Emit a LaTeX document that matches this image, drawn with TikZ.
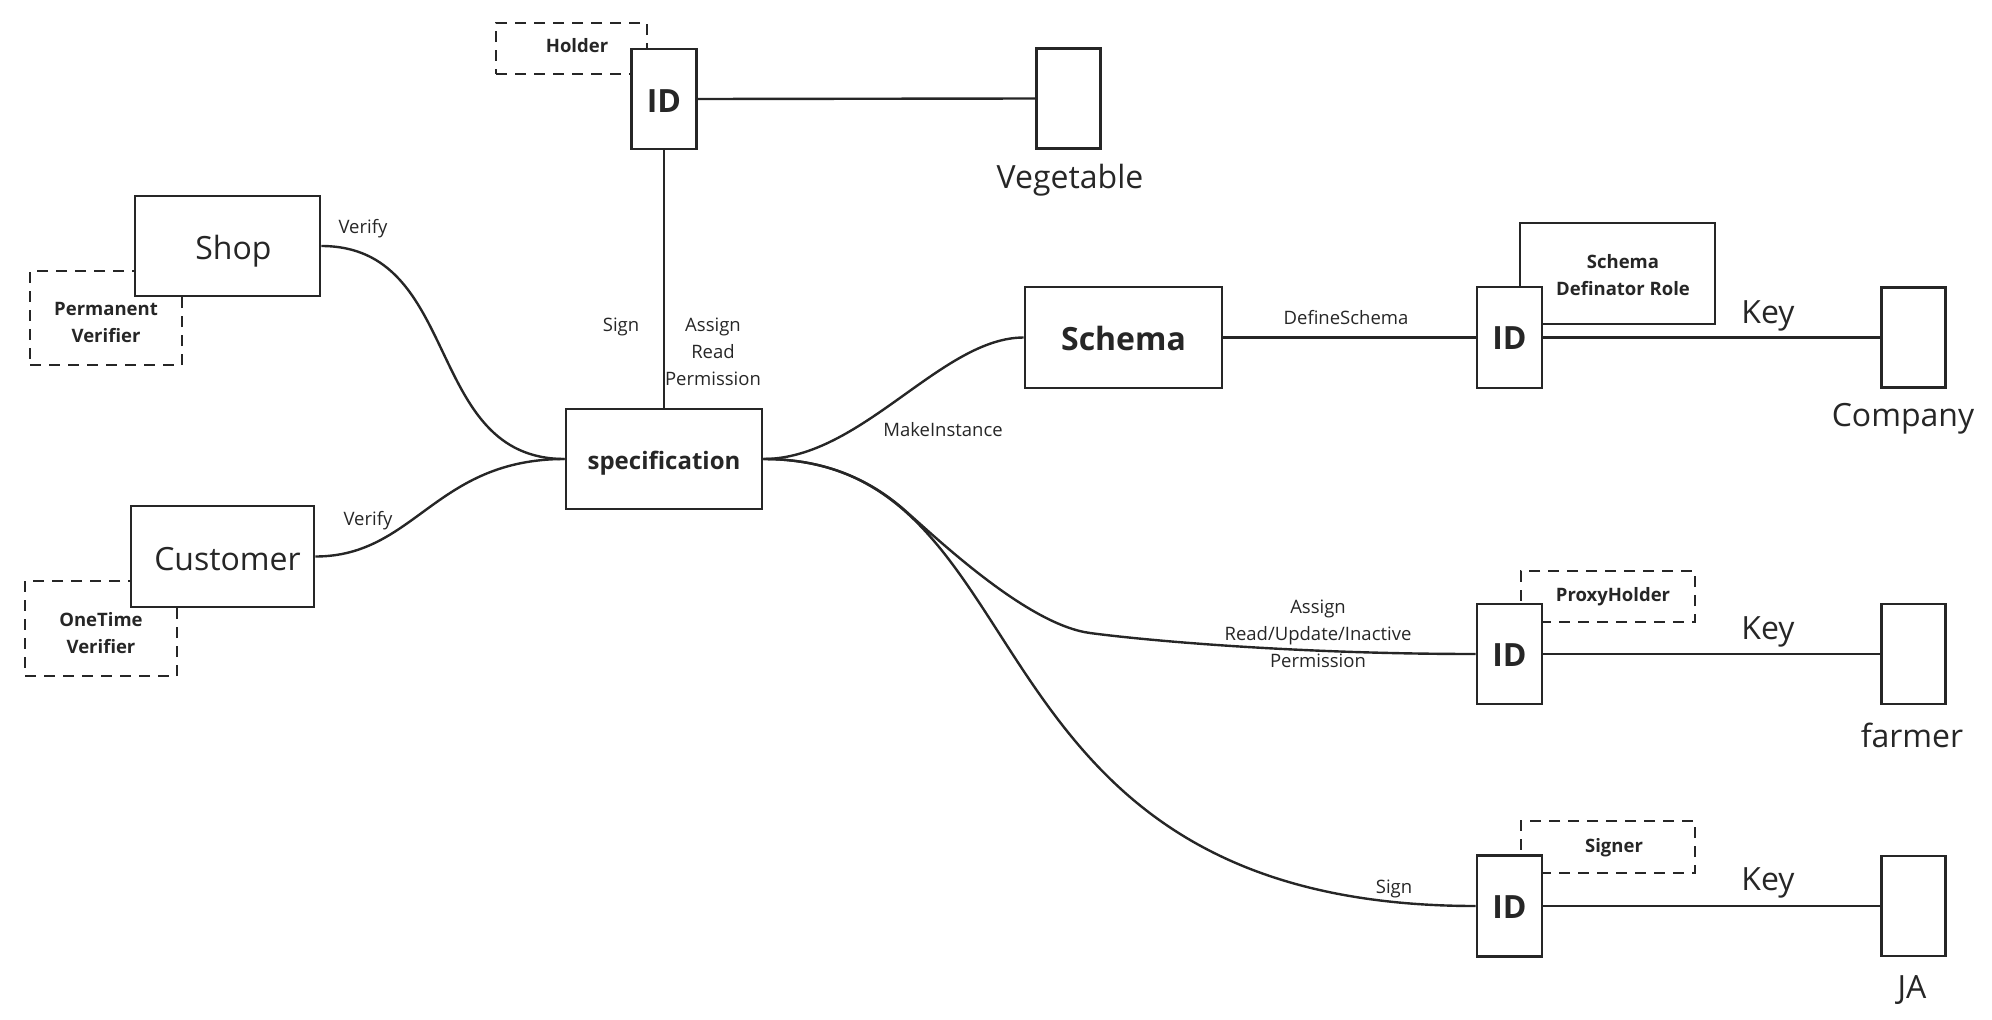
\documentclass[tikz,border=0pt]{standalone}
\usepackage{fontspec}
\setmainfont{Open Sans}
\newcommand\smallreg{\fontsize{18.5}{27}\selectfont}
\newcommand\smallbold{\fontsize{18.5}{27}\selectfont\bfseries}
\newcommand\bigreg{\fontsize{32}{38}\selectfont}
\newcommand\bigbold{\fontsize{32}{38}\selectfont\bfseries}
\newcommand\specfont{\fontsize{24}{30}\selectfont\bfseries}
\definecolor{ink}{RGB}{38,38,38}
\tikzset{
  box/.style={draw=ink, line width=2.6pt, fill=white, inner sep=0pt, align=center, text=ink},
  dbox/.style={draw=ink, line width=2.6pt, dash pattern=on 11pt off 8pt, inner sep=0pt, align=center, text=ink},
  idbox/.style={box, minimum width=65pt, minimum height=100pt},
  ent/.style={box, minimum width=64pt, minimum height=100pt},
  conn/.style={draw=ink, line width=2.4pt},
  txt/.style={text=ink, inner sep=0pt, align=center},
  lbl/.style={txt, font=\smallreg},
  blbl/.style={txt, font=\smallbold},
  big/.style={txt, font=\bigreg},
  bigb/.style={txt, font=\bigbold},
}
\begin{document}
\begin{tikzpicture}[x=1pt,y=-1pt]
\useasboundingbox (0,0) rectangle (1992,1020);
% dashed role boxes (behind)
\node[dbox, minimum width=151pt, minimum height=51pt] (holder) at (571.5,48.5) {};
\node[dbox, minimum width=152pt, minimum height=94pt] (perm) at (106,318) {};
\node[dbox, minimum width=152pt, minimum height=95pt] (onet) at (101,628.5) {};
\node[dbox, minimum width=174pt, minimum height=51pt] (proxy) at (1608,596.5) {};
\node[dbox, minimum width=174pt, minimum height=52pt] (signer) at (1608,847) {};
\node[box, minimum width=195pt, minimum height=101pt] (sdr) at (1617.5,273.5) {};
% main boxes
\node[idbox] (idtop) at (664,99) {};
\node[ent] (veg) at (1068.5,98.5) {};
\node[box, minimum width=185pt, minimum height=100pt] (shop) at (227.5,246) {};
\node[box, minimum width=183pt, minimum height=101pt] (cust) at (222.5,556.5) {};
\node[box, minimum width=196pt, minimum height=100pt] (spec) at (664,459) {};
\node[box, minimum width=197pt, minimum height=101pt] (schema) at (1123.5,337.5) {};
\node[idbox, minimum height=101pt] (id2) at (1509.5,337.5) {};
\node[ent] (comp) at (1913.5,337.5) {};
\node[idbox] (id3) at (1509.5,654) {};
\node[ent] (farm) at (1913.5,654) {};
\node[idbox, minimum height=101pt] (id4) at (1509.5,906) {};
\node[ent] (ja) at (1913.5,906) {};
% texts of the boxes
\node[blbl] (holdertxt) at (577,46) {Holder};
\node[blbl] (permtxt) at (106,322) {Permanent\\Verifier};
\node[blbl] (onettxt) at (101,633.5) {OneTime\\Verifier};
\node[blbl] (proxytxt) at (1613,596.5) {ProxyHolder};
\node[blbl] (signertxt) at (1614,848) {Signer};
\node[blbl] (sdrtxt) at (1623,275) {Schema\\Definator Role};
\node[bigb] (idtoptxt) at (664,101.5) {ID};
\node[big] (shoptxt) at (233.5,251) {Shop};
\node[big] (custtxt) at (227.5,559.5) {Customer};
\node[txt, font=\specfont] (spectxt) at (664,463) {specification};
\node[bigb] (schematxt) at (1123.5,338.5) {Schema};
\node[bigb] (id2txt) at (1509.5,338.5) {ID};
\node[bigb] (id3txt) at (1509.5,655) {ID};
\node[bigb] (id4txt) at (1509.5,907) {ID};
% entity names
\node[big] (veglbl) at (1070,180) {Vegetable};
\node[big] (complbl) at (1903,419) {Company};
\node[big] (farmlbl) at (1912,735) {farmer};
\node[big] (jalbl) at (1912,990) {JA};
\node[big] (key1) at (1768,316) {Key};
\node[big] (key2) at (1768,632) {Key};
\node[big] (key3) at (1768,883) {Key};
% connector labels
\node[lbl] (v1) at (363,229) {Verify};
\node[lbl] (v2) at (368,521) {Verify};
\node[lbl] (sign1) at (621,327) {Sign};
\node[lbl] (arp) at (713,352) {Assign\\Read\\Permission};
\node[lbl] (mk) at (943,430) {MakeInstance};
\node[lbl] (ds) at (1346,318) {DefineSchema};
\node[lbl] (arui) at (1318,634) {Assign\\Read/Update/Inactive\\Permission};
\node[lbl] (sign2) at (1394,889) {Sign};
% connectors
\coordinate (j) at (909,514);
\coordinate (b3) at (1090,633);
\draw[conn] (idtop.east) -- (veg.west);
\draw[conn] (idtop.south) -- (spec.north);
\draw[conn] (shop.east) .. controls +(142,0) and +(-142,0) .. (spec.west);
\draw[conn] (cust.east) .. controls +(100,0) and +(-130,0) .. (spec.west);
\draw[conn] (spec.east) .. controls +(98,0) and +(-82,0) .. (schema.west);
\draw[conn] (spec.east) .. controls (827,459) and (872.5,480.5) .. (j)
  .. controls (945,546) and (1030,625) .. (b3)
  .. controls (1150,641) and (1300,654) .. (id3.west);
\draw[conn] (spec.east) .. controls +(290,0) and +(-525,0) .. (id4.west);
\draw[conn] (schema.east) -- (id2.west);
\draw[conn] (id2.east) -- (comp.west);
\draw[conn] (id3.east) -- (farm.west);
\draw[conn] (id4.east) -- (ja.west);
\end{tikzpicture}
\end{document}
